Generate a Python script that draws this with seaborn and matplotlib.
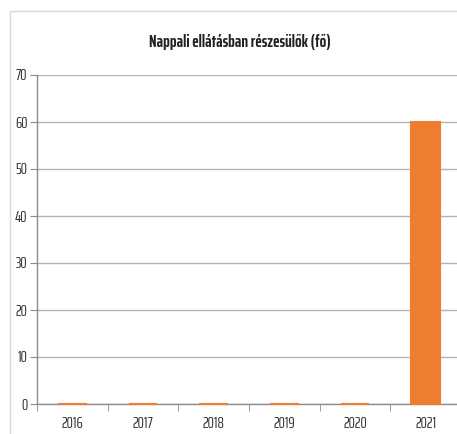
import matplotlib
matplotlib.use("Agg")
import matplotlib.pyplot as plt
import seaborn as sns
import pandas as pd
from matplotlib.patches import Rectangle

years = ["2016", "2017", "2018", "2019", "2020", "2021"]
values = [0, 0, 0, 0, 0, 60]
title = "Nappali ellátásban részesülők (fő)"

sns.set_style("white")
plt.rcParams['font.family'] = ['Saira ExtraCondensed', 'DejaVu Sans']

df = pd.DataFrame({"year": years, "value": values})

fig = plt.figure(figsize=(4.57, 4.34), dpi=100)
W, H = 457, 434
# outer chart border
fig.patches.append(Rectangle((10 / W, -0.01), 1.0, 1 - 11 / H + 0.01, transform=fig.transFigure,
                             fill=False, edgecolor="#d9d9d9", linewidth=1.0))

ax = fig.add_axes([37 / W, 1 - 404 / H, (461 - 37) / W, (404 - 75) / H])
sns.barplot(data=df, x="year", y="value", color="#ed7d31", width=0.41, ax=ax,
            edgecolor="#ed7d31", linewidth=1.5, saturation=1)
for p in ax.patches:
    p.set_zorder(3)
    p.set_clip_on(False)

ax.set_xlim(-0.5, 5.5)
ax.set_ylim(0, 70)
ax.set_yticks(range(0, 71, 10))
ax.yaxis.grid(True, color="#b3b3b3", linewidth=1.0)
ax.set_axisbelow(True)
ax.set_xlabel("")
ax.set_ylabel("")

for s in ["top", "right"]:
    ax.spines[s].set_visible(False)
ax.spines["left"].set_color("#8c8c8c")
ax.spines["bottom"].set_color("#8c8c8c")
ax.spines["left"].set_linewidth(1.0)
ax.spines["bottom"].set_linewidth(1.0)

ax.set_xticks(range(len(years)))
ax.set_xticklabels(years)
ax.set_xticks([i - 0.5 for i in range(len(years) + 1)], minor=True)
ax.tick_params(axis="x", which="major", length=0, pad=9, labelsize=11.5, labelcolor="#333333")
ax.tick_params(axis="x", which="minor", length=5, color="#8c8c8c", direction="out", bottom=True)
ax.tick_params(axis="y", length=5, color="#8c8c8c", direction="out", left=True, labelsize=11.5,
               labelcolor="#333333", pad=2)

fig.text(240 / W, 1 - 42 / H, title, ha="center", va="center",
         fontsize=12.5, fontweight="bold", color="#222222")

fig.savefig("out.png", dpi=100)
